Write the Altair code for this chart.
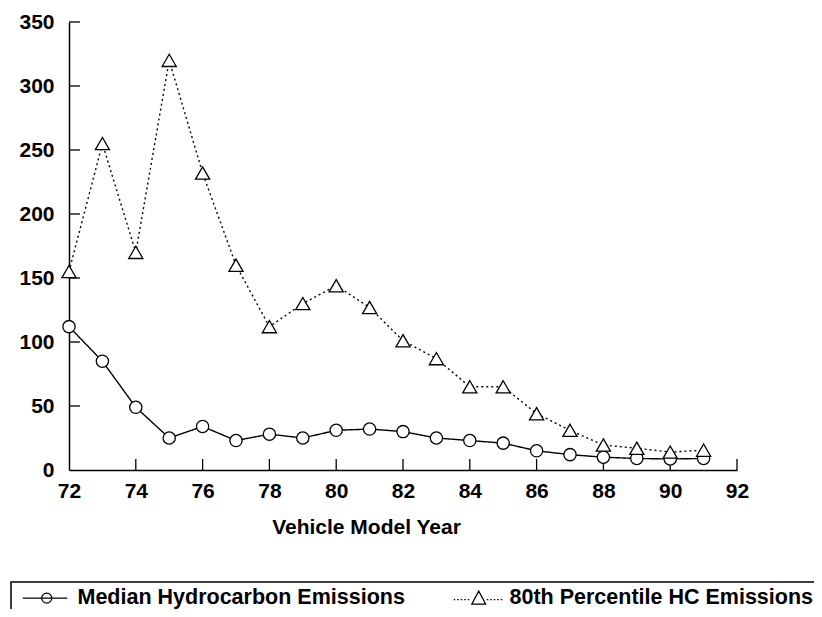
import altair as alt
import pandas as pd

years = list(range(72, 92))
median_hc = [112, 85, 49, 25, 34, 23, 28, 25, 31, 32, 30, 25, 23, 21, 15, 12, 10, 9, 8.6, 9]
p80_hc = [155, 255, 170, 320, 232, 160, 112, 130, 144, 127, 101, 87, 65, 65, 44, 31, 19.5, 17, 14, 15.5]
series_names = ["Median Hydrocarbon Emissions", "80th Percentile HC Emissions"]
y_tick_values = [0, 50, 100, 150, 200, 250, 300, 350]
x_tick_values = [74, 76, 78, 80, 82, 84, 86, 88, 90, 92]

rows = []
for yr, m, p in zip(years, median_hc, p80_hc):
    rows.append({"year": yr, "value": m, "series": series_names[0]})
    rows.append({"year": yr, "value": p, "series": series_names[1]})
df = pd.DataFrame(rows)

FONT = "Liberation Sans"
W, H = 668, 448

xscale = alt.Scale(domain=[72, 92], nice=False, zero=False)
yscale = alt.Scale(domain=[0, 350], nice=False)

xaxis = alt.Axis(values=[72, 74, 76, 78, 80, 82, 84, 86, 88, 90, 92], format="d",
                 ticks=False, tickSize=0, grid=False, domainColor="black", domainWidth=1.5,
                 labelFont=FONT, labelFontWeight="bold", labelFontSize=21, labelColor="black",
                 labelPadding=10, labelFlush=False, labelOverlap=False,
                 title="Vehicle Model Year", titleFont=FONT, titleFontWeight="bold",
                 titleFontSize=21, titleColor="black", titleX=297, titleY=63,
                 titleBaseline="alphabetic")
yaxis = alt.Axis(values=y_tick_values, ticks=False, tickSize=0, grid=False,
                 domainColor="black", domainWidth=1.5,
                 labelFont=FONT, labelFontWeight="bold", labelFontSize=21, labelColor="black",
                 labelPadding=15, labelFlush=False, labelOverlap=False, title=None)

base = alt.Chart(df)

lines = base.mark_line(color="black", strokeWidth=1.4).encode(
    x=alt.X("year:Q", scale=xscale, axis=xaxis),
    y=alt.Y("value:Q", scale=yscale, axis=yaxis),
    strokeDash=alt.StrokeDash("series:N", scale=alt.Scale(domain=series_names, range=[[1, 0], [2, 3]]), legend=None),
    detail="series:N",
)

points = base.mark_point(color="black", filled=False, fill="white", fillOpacity=1, strokeWidth=1.3, opacity=1).encode(
    x=alt.X("year:Q", scale=xscale),
    y=alt.Y("value:Q", scale=yscale),
    shape=alt.Shape("series:N", scale=alt.Scale(domain=series_names, range=["circle", "triangle-up"]), legend=None),
    size=alt.Size("series:N", scale=alt.Scale(domain=series_names, range=[150, 200]), legend=None),
)

# inward ticks on the axes
ytick_df = pd.DataFrame({"v": y_tick_values[1:]})
xtick_df = pd.DataFrame({"v": x_tick_values})
yticks = alt.Chart(ytick_df).mark_rule(color="black", strokeWidth=1.3).encode(
    y=alt.Y("v:Q", scale=yscale), x=alt.value(0), x2=alt.value(11))
xticks = alt.Chart(xtick_df).mark_rule(color="black", strokeWidth=1.3).encode(
    x=alt.X("v:Q", scale=xscale), y=alt.value(H), y2=alt.value(H - 11))

# legend symbols: line + marker
dots = "".join(f"M{a:.2f},0.3H{a + 0.3:.2f}" for a in [-5.0, -4.3, -3.6, -2.9, -2.2])
dots += "".join(f"M{a:.2f},0.3H{a + 0.3:.2f}" for a in [1.6, 2.3, 3.0, 3.7, 4.4])
median_sym = "M-4.8,0H4.1M1,0A1,1 0 1,1 -1,0A1,1 0 1,1 1,0"
p80_sym = dots + "M0,-1.4L1.4,1.2L-1.4,1.2Z"

legend_layer = base.mark_point(color="black", filled=False).encode(
    x=alt.X("year:Q", scale=xscale),
    y=alt.Y("value:Q", scale=yscale),
    shape=alt.Shape("series:N", scale=alt.Scale(domain=series_names, range=[median_sym, p80_sym]),
                    legend=alt.Legend(title=None, orient="none", legendX=-58, legendY=560,
                                      direction="horizontal", columns=2, columnPadding=43,
                                      labelFont=FONT, labelFontWeight="bold", labelFontSize=21.5,
                                      labelColor="black", labelLimit=0, labelOffset=20,
                                      symbolSize=100, symbolStrokeColor="black",
                                      symbolFillColor="transparent", symbolStrokeWidth=1.2,
                                      symbolOpacity=1, symbolOffset=20,
                                      padding=5, strokeColor="black", fillColor="white")),
).transform_filter("false")

chart = alt.layer(lines, yticks, xticks, points, legend_layer).resolve_scale(
    shape="independent", size="independent"
).properties(
    width=W, height=H,
    autosize=alt.AutoSizeParams(type="none"),
    padding={"left": 61, "top": 14, "right": 77, "bottom": 139},
    background="white",
).configure_view(stroke=None).configure_legend(strokeWidth=1.5)

chart.save("out.html", embed_options={"renderer": "svg", "actions": False})
